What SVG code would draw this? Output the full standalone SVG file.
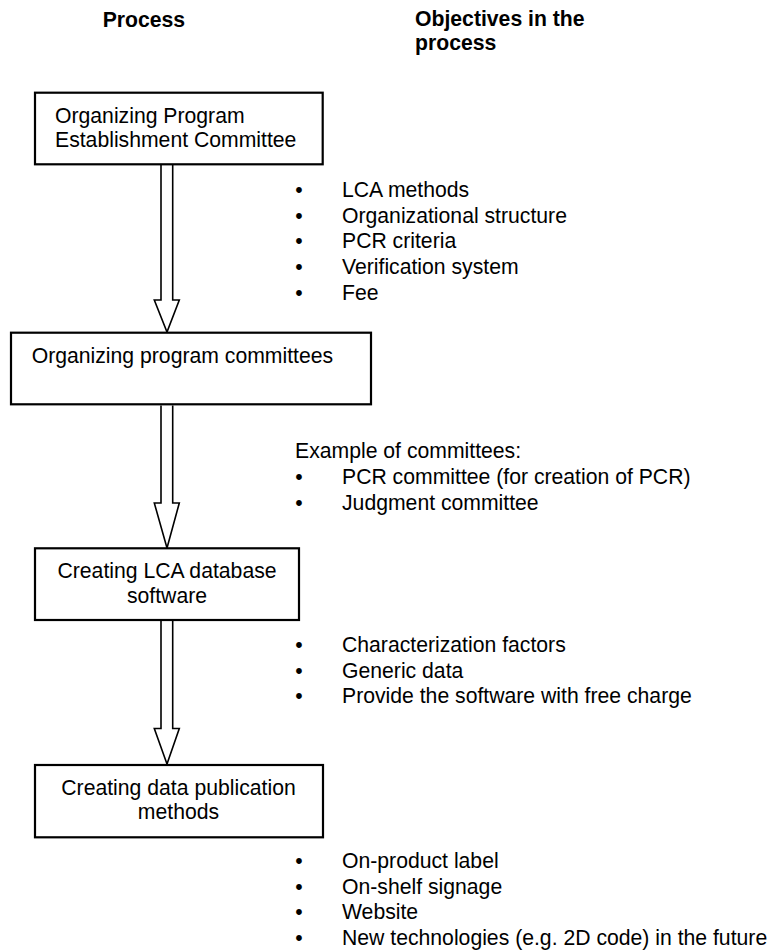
<svg xmlns="http://www.w3.org/2000/svg" width="772" height="951" viewBox="0 0 772 951">
  <style>
    text { font-family: "Liberation Sans", Arial, sans-serif; font-size: 21.2px; fill: #000; }
    .head { font-weight: bold; }
    .mid { text-anchor: middle; }
    .box { fill: #fff; stroke: #000; stroke-width: 2.2; }
    .arrow { fill: #fff; stroke: #000; stroke-width: 1.6; stroke-linejoin: miter; }
  </style>
  <rect width="772" height="951" fill="#fff"/>

  <!-- column headings -->
  <g id="headings">
    <text class="head" x="102.7" y="26.7">Process</text>
    <text class="head" x="415" y="26">Objectives in the</text>
    <text class="head" x="415" y="50">process</text>
  </g>

  <!-- hollow block arrows between the process steps -->
  <g id="connectors">
    <polyline class="arrow" points="161,165 161,300 154.3,300 167,332 179.3,300 172.7,300 172.7,165"/>
    <polyline class="arrow" points="161,405.5 161,503 154.3,503 167,548 179.3,503 172.7,503 172.7,405.5"/>
    <polyline class="arrow" points="161,621 161,728.5 154.3,728.5 167,764 179.3,728.5 172.7,728.5 172.7,621"/>
  </g>

  <g id="step1">
    <rect class="box" x="35" y="92.7" width="287.7" height="71.6"/>
    <text x="55" y="122.7">Organizing Program</text>
    <text x="55" y="146.5">Establishment Committee</text>
  </g>

  <g id="step2">
    <rect class="box" x="11" y="332.7" width="360" height="71.6"/>
    <text x="31.7" y="362.7">Organizing program committees</text>
  </g>

  <g id="step3">
    <rect class="box" x="35" y="548.3" width="264" height="71.7"/>
    <text class="mid" x="167" y="578.3">Creating LCA database</text>
    <text class="mid" x="167" y="603.3">software</text>
  </g>

  <g id="step4">
    <rect class="box" x="35" y="765" width="288" height="72.3"/>
    <text class="mid" x="178.5" y="795">Creating data publication</text>
    <text class="mid" x="178.5" y="819">methods</text>
  </g>

  <!-- objectives for each step -->
  <g id="objectives1">
    <text class="mid" x="299" y="196.7">•</text><text x="342" y="196.7">LCA methods</text>
    <text class="mid" x="299" y="222.5">•</text><text x="342" y="222.5">Organizational structure</text>
    <text class="mid" x="299" y="248.3">•</text><text x="342" y="248.3">PCR criteria</text>
    <text class="mid" x="299" y="274.1">•</text><text x="342" y="274.1">Verification system</text>
    <text class="mid" x="299" y="299.9">•</text><text x="342" y="299.9">Fee</text>
  </g>

  <g id="objectives2">
    <text x="295" y="458.3">Example of committees:</text>
    <text class="mid" x="299" y="484.3">•</text><text x="342" y="484.3">PCR committee (for creation of PCR)</text>
    <text class="mid" x="299" y="510">•</text><text x="342" y="510">Judgment committee</text>
  </g>

  <g id="objectives3">
    <text class="mid" x="299" y="651.7">•</text><text x="342" y="651.7">Characterization factors</text>
    <text class="mid" x="299" y="677.5">•</text><text x="342" y="677.5">Generic data</text>
    <text class="mid" x="299" y="703.3">•</text><text x="342" y="703.3">Provide the software with free charge</text>
  </g>

  <g id="objectives4">
    <text class="mid" x="299" y="868">•</text><text x="342" y="868">On-product label</text>
    <text class="mid" x="299" y="893.7">•</text><text x="342" y="893.7">On-shelf signage</text>
    <text class="mid" x="299" y="919.4">•</text><text x="342" y="919.4">Website</text>
    <text class="mid" x="299" y="945.1">•</text><text x="342" y="945.1">New technologies (e.g. 2D code) in the future</text>
  </g>
</svg>
